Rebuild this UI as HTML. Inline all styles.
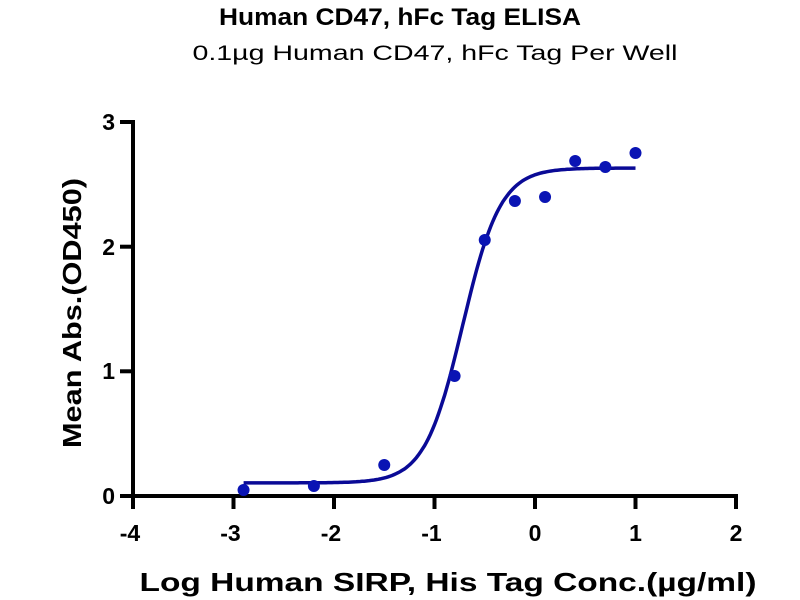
<!DOCTYPE html>
<html><head><style>body{margin:0;background:#fff}svg{display:block}</style></head><body>
<svg id="s" width="800" height="600" xmlns="http://www.w3.org/2000/svg" font-family="Liberation Sans, Arial, sans-serif">
<text x="400" y="25" text-anchor="middle" font-size="24" font-weight="bold" textLength="362" lengthAdjust="spacingAndGlyphs">Human CD47, hFc Tag ELISA</text>
<text x="435" y="60" text-anchor="middle" font-size="21" textLength="485" lengthAdjust="spacingAndGlyphs">0.1µg Human CD47,  hFc Tag Per Well</text>
<g stroke="#000" stroke-width="4" fill="none">
<line x1="133" y1="120" x2="133" y2="498"/>
<line x1="131" y1="496" x2="738" y2="496"/>
<line x1="120" y1="122" x2="133" y2="122"/>
<line x1="120" y1="246.7" x2="133" y2="246.7"/>
<line x1="120" y1="371.3" x2="133" y2="371.3"/>
<line x1="120" y1="496" x2="133" y2="496"/>
<g id="xt"></g>
</g>
<g font-size="23" font-weight="bold" text-anchor="end">
<text x="115" y="130">3</text><text x="115" y="255">2</text><text x="115" y="379">1</text><text x="115" y="504">0</text>
</g>
<g font-size="23" font-weight="bold" text-anchor="middle" id="xl"></g>
<text transform="translate(81,313) rotate(-90)" text-anchor="middle" font-size="26" font-weight="bold" textLength="270" lengthAdjust="spacingAndGlyphs">Mean Abs.(OD450)</text>
<text x="448" y="591" text-anchor="middle" font-size="26" font-weight="bold" textLength="617" lengthAdjust="spacingAndGlyphs">Log Human SIRP, His Tag Conc.(µg/ml)</text>
<path id="c" fill="none" stroke="#0a0a96" stroke-width="3.5"/>
<g id="p" fill="#0a14b4"></g>
</svg>
<script>
var X=v=>133+100.5*(v+4),Y=v=>496-124.7*v,ns="http://www.w3.org/2000/svg";
var xt=document.getElementById('xt'),xl=document.getElementById('xl');
for(var i=-4;i<=2;i++){var l=document.createElementNS(ns,'line');l.setAttribute('x1',X(i));l.setAttribute('x2',X(i));l.setAttribute('y1',496);l.setAttribute('y2',509);xt.appendChild(l);
var t=document.createElementNS(ns,'text');t.setAttribute('x',X(i)-(i<0?3:0));t.setAttribute('y',541);t.textContent=(i<0?'-':'')+Math.abs(i);xl.appendChild(t);}
var b=0.105,tp=2.63,ec=-0.72,h=2.3,d='';
for(var x=-2.9;x<=1.0001;x+=0.02){var y=b+(tp-b)/(1+Math.pow(10,(ec-x)*h));d+=(d?'L':'M')+X(x).toFixed(1)+','+Y(y).toFixed(1);}
document.getElementById('c').setAttribute('d',d);
var pts=[[-2.9,490],[-2.2,486],[-1.5,465],[-0.8,376],[-0.5,240],[-0.2,201],[0.1,197],[0.4,161],[0.7,167],[1.0,153]];
var g=document.getElementById('p');pts.forEach(p=>{var c=document.createElementNS(ns,'circle');c.setAttribute('cx',X(p[0]));c.setAttribute('cy',p[1]);c.setAttribute('r',6);g.appendChild(c);});
</script>
</body></html>
